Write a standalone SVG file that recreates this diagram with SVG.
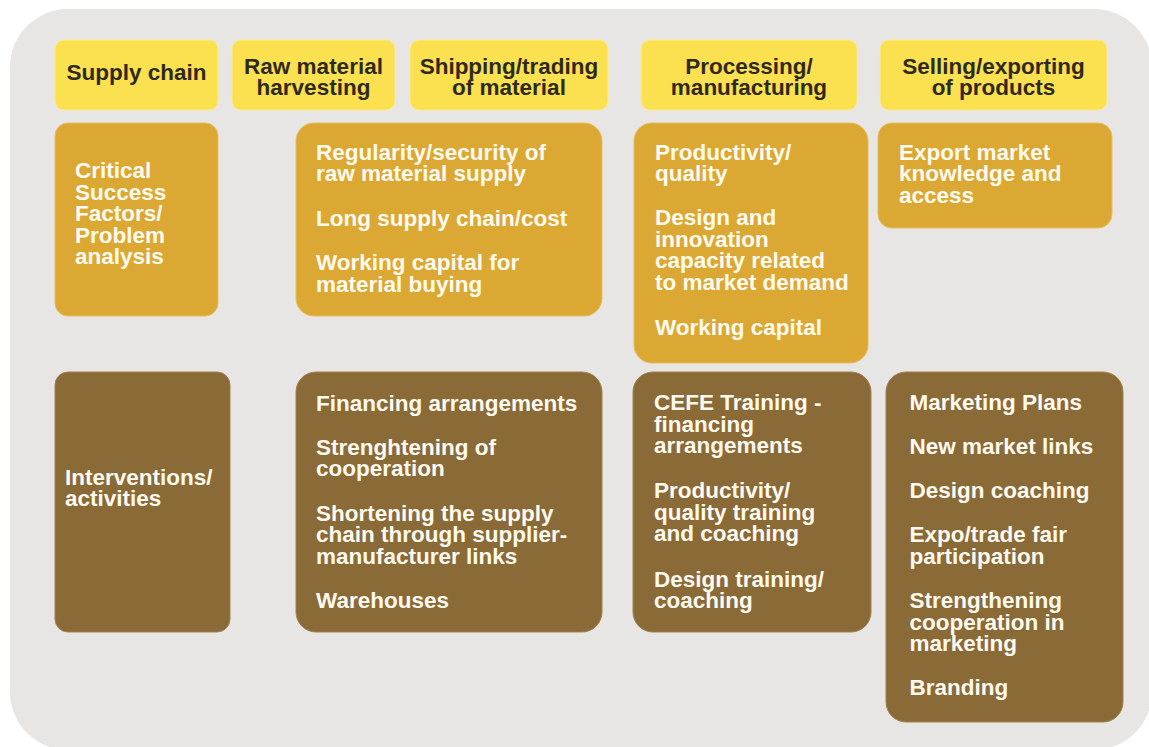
<svg xmlns="http://www.w3.org/2000/svg" width="1149" height="747" viewBox="0 0 1149 747">
  <style>
    .panel { fill: #e8e6e4; }
    .head { fill: #fbe04f; stroke: #fdeb8a; stroke-width: 1; }
    .gold { fill: #dba933; stroke: #e6bd5c; stroke-width: 1; }
    .brown { fill: #8a6a37; stroke: #a08250; stroke-width: 1; }
    text { font-family: "Liberation Sans", Arial, sans-serif; font-weight: bold; font-size: 22.5px; }
    .ht { fill: #2f2a1f; text-anchor: middle; }
    .bt { fill: #fffaf0; }
  </style>

  <!-- background panel -->
  <rect class="panel" x="10" y="9" width="1142" height="741" rx="58" ry="58"/>

  <!-- header row: supply chain stages -->
  <g id="h-supply-chain">
    <rect class="head" x="55" y="40" width="163" height="70" rx="9"/>
    <text class="ht" x="136.5" y="80">Supply chain</text>
  </g>
  <g id="h-raw-material">
    <rect class="head" x="232" y="40" width="163" height="70" rx="9"/>
    <text class="ht" x="313.5" y="74">Raw material</text>
    <text class="ht" x="313.5" y="95">harvesting</text>
  </g>
  <g id="h-shipping">
    <rect class="head" x="410" y="40" width="198" height="70" rx="9"/>
    <text class="ht" x="509" y="74">Shipping/trading</text>
    <text class="ht" x="509" y="95">of material</text>
  </g>
  <g id="h-processing">
    <rect class="head" x="641" y="40" width="216" height="70" rx="9"/>
    <text class="ht" x="749" y="74">Processing/</text>
    <text class="ht" x="749" y="95">manufacturing</text>
  </g>
  <g id="h-selling">
    <rect class="head" x="880" y="40" width="227" height="70" rx="9"/>
    <text class="ht" x="993.5" y="74">Selling/exporting</text>
    <text class="ht" x="993.5" y="95">of products</text>
  </g>

  <!-- middle row: critical success factors -->
  <g id="csf-label">
    <rect class="gold" x="55" y="123" width="163" height="193" rx="13"/>
    <text class="bt" x="75" y="178">Critical</text>
    <text class="bt" x="75" y="199.5">Success</text>
    <text class="bt" x="75" y="221">Factors/</text>
    <text class="bt" x="75" y="242.5">Problem</text>
    <text class="bt" x="75" y="264">analysis</text>
  </g>
  <g id="csf-material">
    <rect class="gold" x="296" y="123" width="306" height="193" rx="18"/>
    <text class="bt" x="316" y="159.5">Regularity/security of</text>
    <text class="bt" x="316" y="181">raw material supply</text>
    <text class="bt" x="316" y="226">Long supply chain/cost</text>
    <text class="bt" x="316" y="270">Working capital for</text>
    <text class="bt" x="316" y="291.5">material buying</text>
  </g>
  <g id="csf-processing">
    <rect class="gold" x="634" y="123" width="234" height="240" rx="18"/>
    <text class="bt" x="655" y="159.5">Productivity/</text>
    <text class="bt" x="655" y="181">quality</text>
    <text class="bt" x="655" y="225">Design and</text>
    <text class="bt" x="655" y="246.5">innovation</text>
    <text class="bt" x="655" y="268">capacity related</text>
    <text class="bt" x="655" y="289.5">to market demand</text>
    <text class="bt" x="655" y="334.5">Working capital</text>
  </g>
  <g id="csf-selling">
    <rect class="gold" x="878" y="123" width="234" height="105" rx="14"/>
    <text class="bt" x="899" y="159.5">Export market</text>
    <text class="bt" x="899" y="181">knowledge and</text>
    <text class="bt" x="899" y="202.5">access</text>
  </g>

  <!-- bottom row: interventions -->
  <g id="int-label">
    <rect class="brown" x="55" y="372" width="175" height="260" rx="13"/>
    <text class="bt" x="65" y="484.5">Interventions/</text>
    <text class="bt" x="65" y="506">activities</text>
  </g>
  <g id="int-material">
    <rect class="brown" x="296" y="372" width="306" height="260" rx="20"/>
    <text class="bt" x="316" y="410.5">Financing arrangements</text>
    <text class="bt" x="316" y="454.5">Strenghtening of</text>
    <text class="bt" x="316" y="476">cooperation</text>
    <text class="bt" x="316" y="520.5">Shortening the supply</text>
    <text class="bt" x="316" y="542">chain through supplier-</text>
    <text class="bt" x="316" y="563.5">manufacturer links</text>
    <text class="bt" x="316" y="608">Warehouses</text>
  </g>
  <g id="int-processing">
    <rect class="brown" x="633" y="372" width="238" height="260" rx="20"/>
    <text class="bt" x="654" y="410">CEFE Training -</text>
    <text class="bt" x="654" y="431.5">financing</text>
    <text class="bt" x="654" y="453">arrangements</text>
    <text class="bt" x="654" y="498">Productivity/</text>
    <text class="bt" x="654" y="519.5">quality training</text>
    <text class="bt" x="654" y="541">and coaching</text>
    <text class="bt" x="654" y="586.5">Design training/</text>
    <text class="bt" x="654" y="608">coaching</text>
  </g>
  <g id="int-selling">
    <rect class="brown" x="886" y="372" width="237" height="350" rx="20"/>
    <text class="bt" x="909.5" y="410">Marketing Plans</text>
    <text class="bt" x="909.5" y="453.5">New market links</text>
    <text class="bt" x="909.5" y="498">Design coaching</text>
    <text class="bt" x="909.5" y="542">Expo/trade fair</text>
    <text class="bt" x="909.5" y="563.5">participation</text>
    <text class="bt" x="909.5" y="608">Strengthening</text>
    <text class="bt" x="909.5" y="629.5">cooperation in</text>
    <text class="bt" x="909.5" y="651">marketing</text>
    <text class="bt" x="909.5" y="695">Branding</text>
  </g>

  <!-- no connectors in this chart -->
  <g id="connectors"/>
</svg>
